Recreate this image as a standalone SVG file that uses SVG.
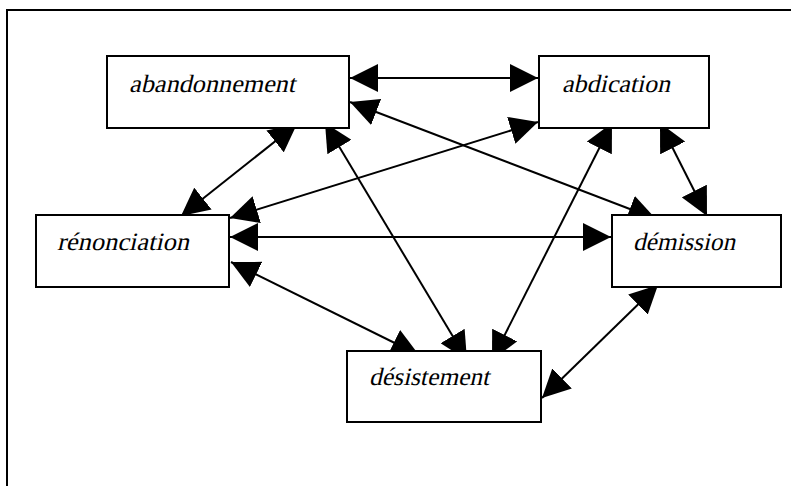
<svg xmlns="http://www.w3.org/2000/svg" width="791" height="486" viewBox="0 0 791 486">
<style>
.box{fill:#fff;stroke:#000;stroke-width:2}
.lbl{font-family:'Liberation Serif','Times New Roman',serif;font-style:normal;font-size:25px;fill:#000}
.c{stroke:#000;stroke-width:2;fill:none;marker-start:url(#ah);marker-end:url(#ah)}
</style>
<defs>
<marker id="ah" markerUnits="userSpaceOnUse" markerWidth="28" markerHeight="28" refX="28" refY="14" orient="auto-start-reverse" viewBox="0 0 28 28">
<path d="M0,0 L28,14 L0,28 z" fill="#000"/>
</marker>
</defs>
<rect x="0" y="0" width="791" height="486" fill="#fff"/>
<rect x="7" y="10" width="800" height="500" fill="none" stroke="#000" stroke-width="2"/>
<g id="connectors">
<line class="c" x1="350" y1="78" x2="538" y2="78"/>
<line class="c" x1="297" y1="124" x2="181" y2="216"/>
<line class="c" x1="325" y1="123" x2="467" y2="360"/>
<line class="c" x1="350" y1="102" x2="656" y2="219"/>
<line class="c" x1="230" y1="218" x2="538" y2="122"/>
<line class="c" x1="230" y1="237" x2="611" y2="237"/>
<line class="c" x1="231" y1="262" x2="419" y2="355"/>
<line class="c" x1="612" y1="123" x2="492" y2="360"/>
<line class="c" x1="660" y1="123" x2="707" y2="216"/>
<line class="c" x1="658" y1="285" x2="542" y2="398"/>
</g>
<g id="abandonnement">
<rect class="box" x="107" y="56" width="242" height="72"/>
<text class="lbl" transform="translate(129 92) skewX(-13)" x="0" y="0" textLength="166" lengthAdjust="spacingAndGlyphs">abandonnement</text>
</g>
<g id="abdication">
<rect class="box" x="539" y="56" width="170" height="72"/>
<text class="lbl" transform="translate(562 92) skewX(-13)" x="0" y="0" textLength="108" lengthAdjust="spacingAndGlyphs">abdication</text>
</g>
<g id="renonciation">
<rect class="box" x="36" y="215" width="193" height="72"/>
<text class="lbl" transform="translate(57 250) skewX(-13)" x="0" y="0" textLength="132" lengthAdjust="spacingAndGlyphs">rénonciation</text>
</g>
<g id="demission">
<rect class="box" x="612" y="215" width="169" height="72"/>
<text class="lbl" transform="translate(633 250) skewX(-13)" x="0" y="0" textLength="102" lengthAdjust="spacingAndGlyphs">démission</text>
</g>
<g id="desistement">
<rect class="box" x="347" y="351" width="194" height="71"/>
<text class="lbl" transform="translate(369 385) skewX(-13)" x="0" y="0" textLength="120" lengthAdjust="spacingAndGlyphs">désistement</text>
</g>
</svg>
